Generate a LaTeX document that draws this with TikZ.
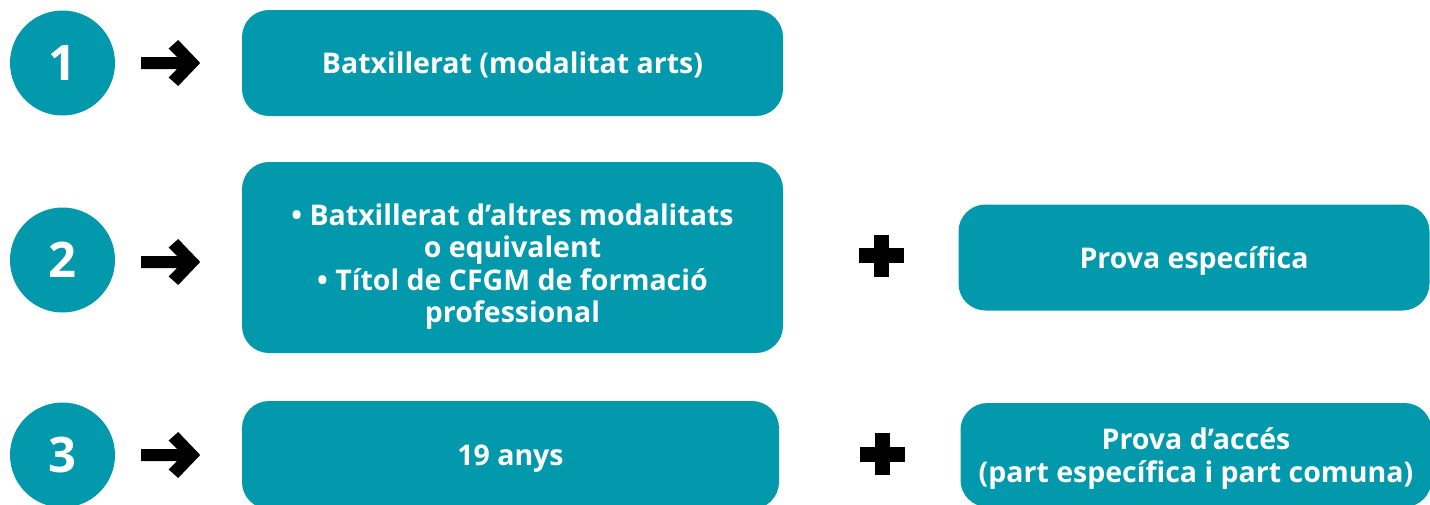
\documentclass[tikz,border=0pt]{standalone}
\usepackage{fontspec}
\setmainfont{Open Sans}
\definecolor{stepteal}{RGB}{3,153,173}
\tikzstyle{number} = [circle, fill=stepteal, text=white, minimum size=105pt, inner sep=0pt, font=\fontsize{49}{49}\selectfont\bfseries]
\tikzstyle{route} = [rectangle, rounded corners=27pt, fill=stepteal, text=white, align=center, inner sep=0pt, text depth=-6pt, font=\fontsize{28.5}{32.5}\selectfont\bfseries]
\tikzstyle{extra} = [route, minimum width=471pt, minimum height=106pt]
\tikzset{
  goarrow/.pic={\fill (-29.5,-6) -- (6.5,-6) -- (-2,-14.5) -- (7.5,-23) -- (29.5,0) -- (7.5,23) -- (-2,14.5) -- (6.5,6) -- (-29.5,6) -- cycle;},
  plusmark/.pic={\fill (-22.5,-7.5) rectangle (22.5,7.5); \fill (-7.5,-21) rectangle (7.5,21);}
}
\begin{document}
\begin{tikzpicture}[x=1pt, y=-1pt, node distance=450pt]
    \useasboundingbox (0,0) rectangle (1430,504);

    % Place nodes
    \node [number] at (62.5,63) (one) {1};
    \node [number, below of=one, node distance=197pt] (two) {2};
    \node [number, below of=two, node distance=195pt] (three) {3};
    \node [route, right of=one, minimum width=541pt, minimum height=106pt] (arts) {Batxillerat (modalitat arts)};
    \node [route, below of=arts, node distance=194.5pt, minimum width=541pt, minimum height=191pt, text height=130pt, text depth=-5pt] (others) {• Batxillerat d’altres modalitats\\ o equivalent\\ • Títol de CFGM de formació\\ professional};
    \node [route, right of=three, node distance=448pt, minimum width=537pt, minimum height=108pt] (age) {19 anys};
    \node [extra, right of=others, node distance=681.5pt] (specific) {Prova específica};
    \node [extra, right of=age, node distance=685.5pt, minimum height=104pt] (access) {Prova d’accés\\ (part específica i part comuna)};

    % Draw arrows and plus signs
    \pic at ([xshift=55.5pt]one.east) {goarrow};
    \pic at ([xshift=55.5pt,yshift=-2pt]two.east) {goarrow};
    \pic at ([xshift=55.5pt]three.east) {goarrow};
    \pic at ([xshift=98.5pt,yshift=2pt]others.east) {plusmark};
    \pic at ([xshift=103pt,yshift=1pt]age.east) {plusmark};
\end{tikzpicture}
\end{document}
